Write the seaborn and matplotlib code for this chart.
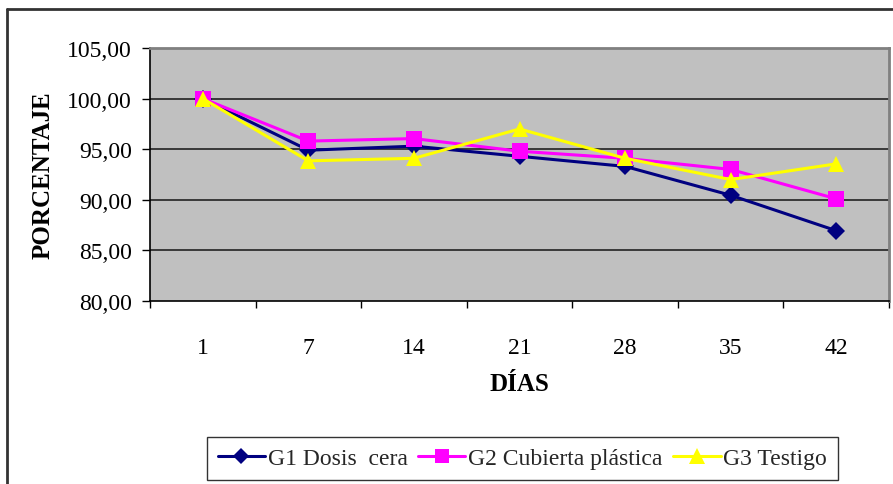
import matplotlib
matplotlib.use("Agg")
import matplotlib.pyplot as plt
import seaborn as sns
import pandas as pd
from matplotlib.ticker import FuncFormatter, FixedLocator
from matplotlib.lines import Line2D

dias = ["1", "7", "14", "21", "28", "35", "42"]
g1 = [100.0, 94.9, 95.3, 94.3, 93.3, 90.45, 86.95]
g2 = [100.0, 95.8, 96.05, 94.8, 94.1, 93.0, 90.1]
g3 = [100.0, 93.85, 94.1, 97.0, 94.1, 92.0, 93.55]
series = ["G1 Dosis  cera", "G2 Cubierta plástica", "G3 Testigo"]

rows = []
for name, vals in zip(series, [g1, g2, g3]):
    for d, v in zip(dias, vals):
        rows.append({"DÍAS": d, "PORCENTAJE": v, "Serie": name})
df = pd.DataFrame(rows)

sns.set_theme(style="white")
plt.rcParams["font.family"] = ["Liberation Serif", "DejaVu Serif"]

fig = plt.figure(figsize=(8.93, 4.85), dpi=100)
ax = fig.add_axes([150 / 893, (485 - 302) / 485, 739 / 893, 253 / 485])

colors = {series[0]: "#000080", series[1]: "#FF00FF", series[2]: "#FFFF00"}
markers = {series[0]: "D", series[1]: "s", series[2]: "^"}
msizes = {series[0]: 9.5, series[1]: 11, series[2]: 12}

ax.set_facecolor("#C0C0C0")
for yv in [85, 90, 95, 100]:
    ax.axhline(yv, color="#222222", lw=1.2, zorder=1)

for name in series:
    sub = df[df["Serie"] == name]
    sns.lineplot(data=sub, x="DÍAS", y="PORCENTAJE", ax=ax, color=colors[name],
                 marker=markers[name], markersize=msizes[name], markeredgewidth=0,
                 linewidth=2.2, sort=False, zorder=3, legend=False)

ax.set_xlim(-0.5, 6.5)
ax.set_ylim(80, 105)
ax.set_yticks([80, 85, 90, 95, 100, 105])
ax.yaxis.set_major_formatter(FuncFormatter(lambda v, p: f"{v:.2f}".replace(".", ",")))
ax.set_xticks(range(7))
ax.set_xticklabels(dias)
ax.xaxis.set_minor_locator(FixedLocator([i - 0.5 for i in range(8)]))
ax.tick_params(axis="x", which="major", length=0, pad=26, labelsize=17, colors="black")
ax.tick_params(axis="x", which="minor", length=5, width=1, color="black", bottom=True)
ax.tick_params(axis="y", which="major", length=6, width=1, color="black", left=True,
               labelsize=17, pad=7, labelcolor="black")

for s in ["top", "right"]:
    ax.spines[s].set_color("#808080")
    ax.spines[s].set_linewidth(2)
for s in ["left", "bottom"]:
    ax.spines[s].set_color("black")
    ax.spines[s].set_linewidth(1.2)

ax.set_xlabel("DÍAS", fontsize=18, fontweight="bold", labelpad=10, color="black")
ax.set_ylabel("PORCENTAJE", fontsize=18, fontweight="bold", labelpad=9, color="black")

handles = [Line2D([], [], color=colors[n], marker=markers[n], markersize=msizes[n] - 1,
                  markeredgewidth=0, linewidth=2.2) for n in series]
leg = fig.legend(handles, series, loc="center", bbox_to_anchor=(0.585, 0.053), ncol=3,
                 frameon=True, fancybox=False, edgecolor="black", fontsize=17,
                 handlelength=2.0, handletextpad=0.12, columnspacing=0.45,
                 borderpad=0.45, borderaxespad=0)
leg.get_frame().set_linewidth(1.0)

# outer chart border (left and top visible)
fig.add_artist(Line2D([7 / 893, 7 / 893], [0, 1 - 10 / 485], color="#333333", lw=2,
                      transform=fig.transFigure))
fig.add_artist(Line2D([7 / 893, 1], [1 - 10 / 485, 1 - 10 / 485], color="#333333", lw=2,
                      transform=fig.transFigure))

fig.savefig("out.png", dpi=100, facecolor="white")
